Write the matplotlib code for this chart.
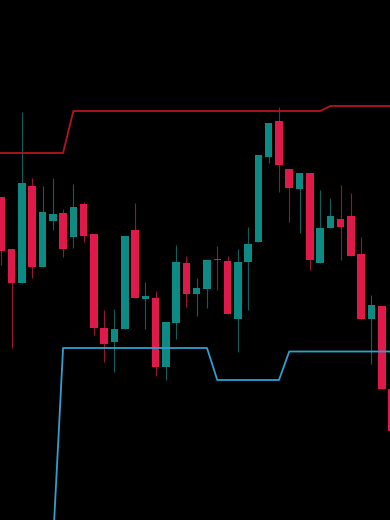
import numpy as np
import matplotlib.pyplot as plt

# =========================================================
# Data (price levels)
# =========================================================

opens = [323, 271, 237, 334, 253, 299, 307, 283, 316, 286,
         192, 178, 191, 290, 221, 222, 153, 197, 257, 226,
         231, 261, 259, 201, 258, 278, 363, 399, 351, 331,
         347, 257, 292, 301, 304, 266, 201, 214, 131]
closes = [269, 237, 337, 253, 308, 306, 271, 313, 284, 192,
          176, 191, 284, 222, 224, 153, 198, 258, 226, 232,
          260, 260, 206, 258, 276, 365, 397, 355, 332, 347,
          260, 292, 304, 293, 264, 201, 215, 131, 89]
highs = [323, 271, 408, 342, 334, 342, 311, 336, 318, 286,
         210, 211, 284, 317, 238, 229, 198, 275, 264, 242,
         260, 274, 264, 271, 293, 365, 397, 413, 351, 347,
         347, 330, 322, 335, 327, 283, 225, 214, 131]
lows = [255, 172, 237, 242, 253, 290, 263, 272, 278, 185,
        158, 148, 191, 222, 191, 144, 140, 181, 213, 204,
        212, 230, 206, 168, 210, 278, 357, 328, 298, 287,
        250, 257, 292, 260, 264, 201, 156, 131, 89]

# Channel lines, starting one bar before the first candle
upper = [367] * 8 + [409] * 25 + [414] * 7
lower = [-27] * 7 + [172] * 15 + [140] * 7 + [168.5] * 11

UP_COLOR = "#0e8a85"
DOWN_COLOR = "#e0194b"

# =========================================================
# Plot
# =========================================================

fig = plt.figure(figsize=(3.9, 5.2), dpi=100, facecolor="black")
ax = fig.add_axes([0, 0, 1, 1], facecolor="black")

idx = np.arange(len(opens))
o = np.array(opens, dtype=float)
c = np.array(closes, dtype=float)
colors = [UP_COLOR if cc >= oo else DOWN_COLOR for oo, cc in zip(o, c)]

# wicks look a bit dimmer than the bodies
ax.vlines(idx, lows, highs, colors=colors, linewidth=0.8, alpha=0.7, zorder=2)
body = np.maximum(np.abs(c - o), 1.0)
ax.bar(idx, body, bottom=np.minimum(o, c), width=0.73,
       color=colors, linewidth=0, zorder=3)

line_idx = np.arange(-1, len(upper) - 1)
ax.plot(line_idx, upper, color="#b5141f", linewidth=1.3, zorder=4)
ax.plot(line_idx, lower, color="#2f9fd0", linewidth=1.3, zorder=4)

ax.set_xlim(-1.4 / 10.28, (390 - 1.4) / 10.28)
ax.set_ylim(0, 520)
ax.axis("off")

# =========================================================
# Save Figure
# =========================================================

plt.savefig("out.png", dpi=100, facecolor="black")
